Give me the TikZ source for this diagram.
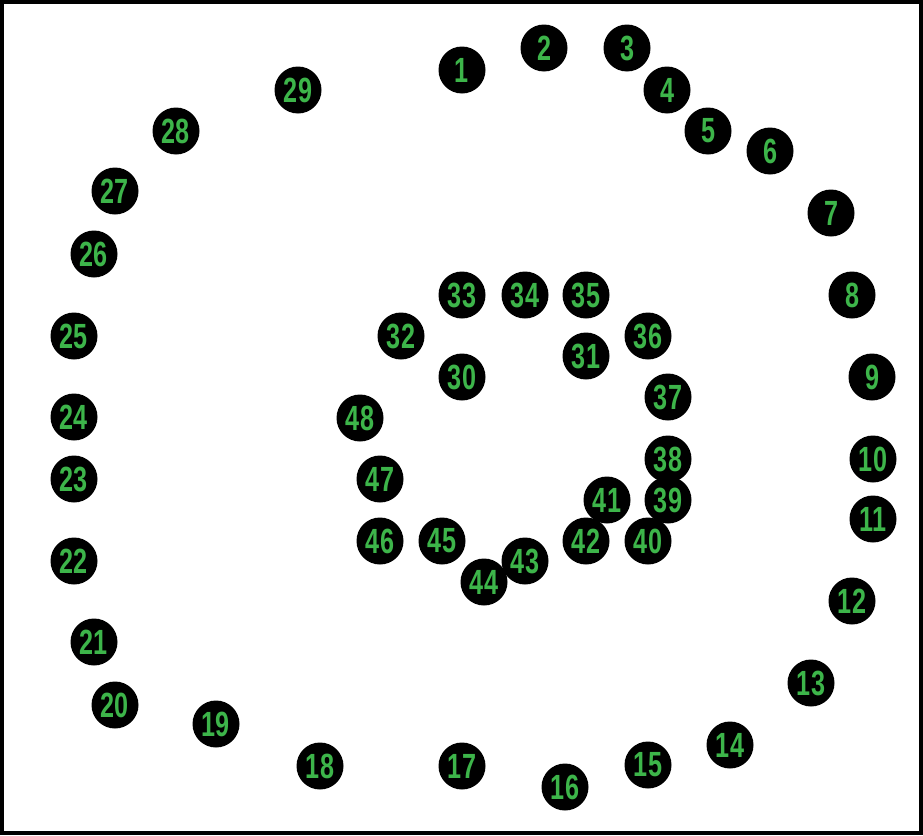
\documentclass[tikz,border=0pt]{standalone}
\usepackage{fontspec}
\setmainfont{Liberation Sans}
\usepackage{graphicx}
\definecolor{numgreen}{HTML}{3DB54A}
\begin{document}
\begin{tikzpicture}[x=1pt,y=-1pt,
  dot/.style={circle,fill=black,minimum size=47pt,inner sep=0pt,text=numgreen,
    font=\fontsize{35}{35}\selectfont\bfseries}]
\useasboundingbox (0,0) rectangle (923,835);
\draw[line width=4pt] (2,2) rectangle (921,833);
\foreach \n/\x/\y in {
1/462/70, 2/544/48, 3/627/48, 4/667/90, 5/708/131, 6/770/151, 7/831/213,
8/852/295, 9/872/377, 10/873/459, 11/873/519, 12/852/601, 13/811/683,
14/730/745, 15/648/765, 16/565/787, 17/462/766, 18/320/766, 19/216/724,
20/115/705, 21/94/642, 22/74/561, 23/74/479, 24/74/417, 25/74/336,
26/94/254, 27/115/191, 28/176/131, 29/298/90,
30/462/377, 31/586/356, 32/401/336, 33/462/295, 34/525/295, 35/586/295,
36/648/336, 37/668/397, 38/668/459, 39/668/500, 40/648/541, 41/607/500,
42/586/541, 43/525/561, 44/484/582, 45/442/541, 46/380/541, 47/380/479,
48/360/418}
  \node[dot] (n\n) at (\x,\y) {\scalebox{0.72}[1]{\n}};
\end{tikzpicture}
\end{document}
